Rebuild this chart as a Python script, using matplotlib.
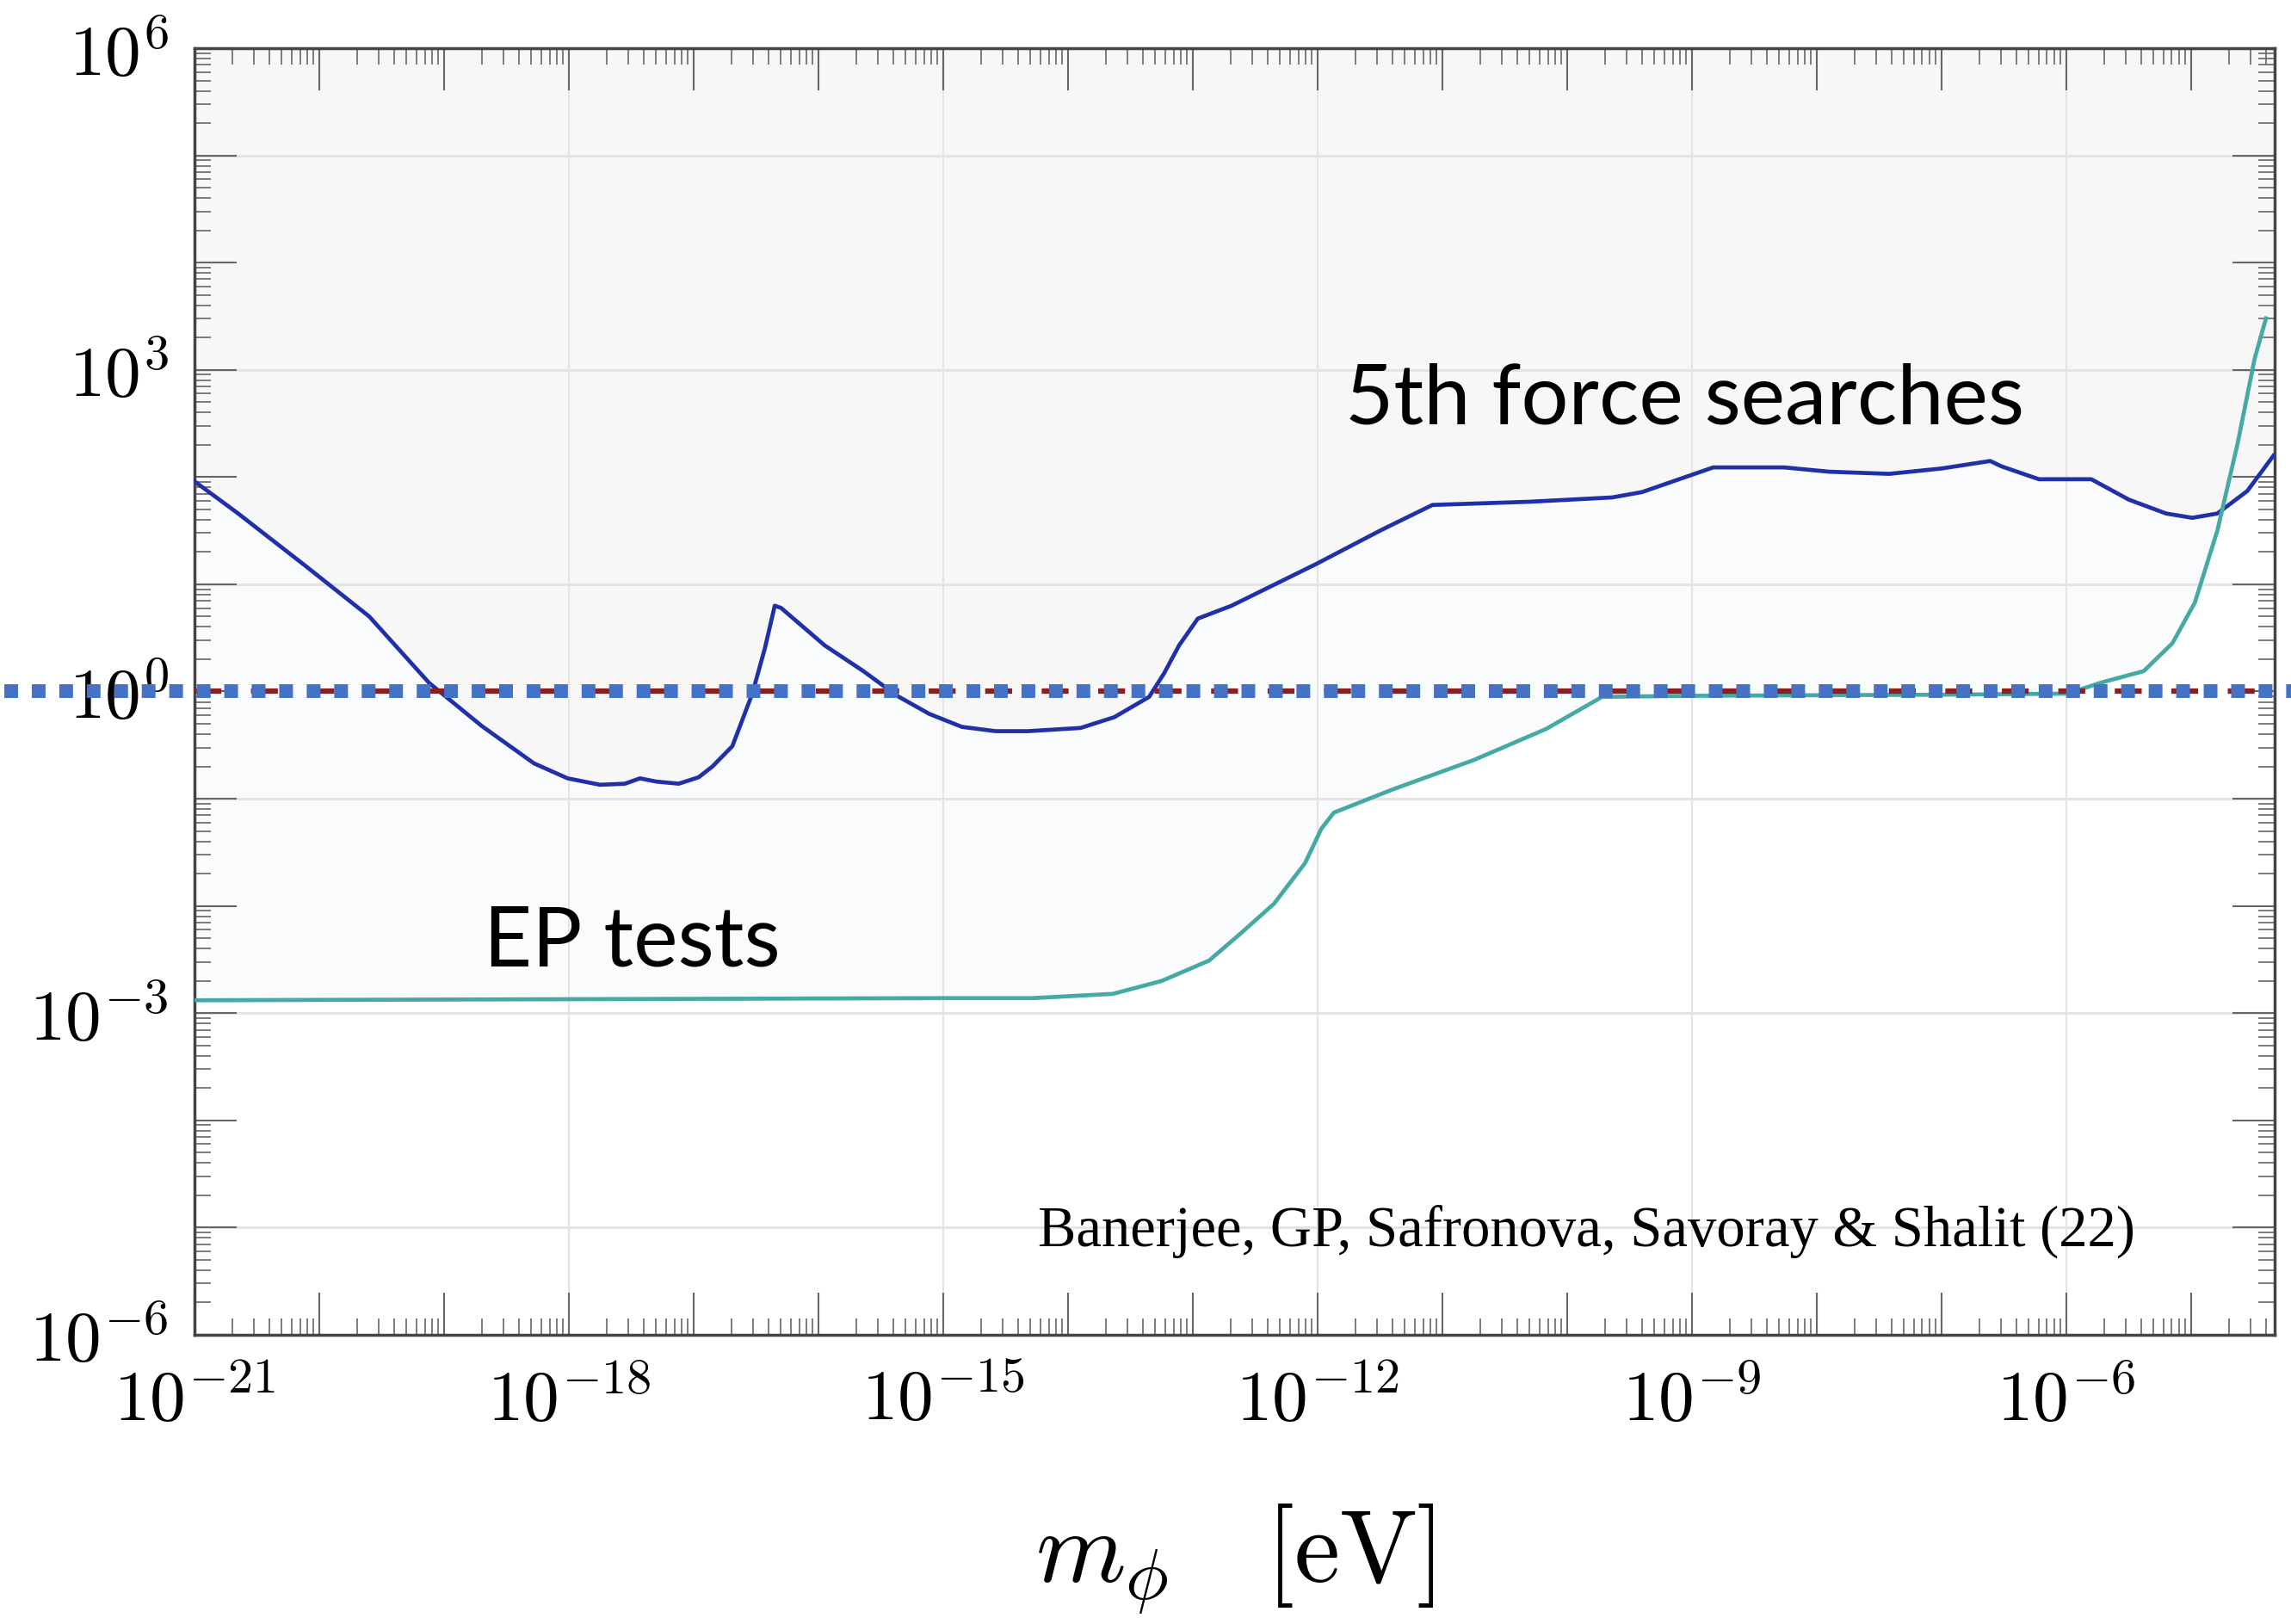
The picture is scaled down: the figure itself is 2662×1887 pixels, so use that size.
import matplotlib
matplotlib.use("Agg")
import matplotlib.pyplot as plt
from matplotlib.ticker import LogLocator, FuncFormatter, NullFormatter
import numpy as np

plt.rcParams['mathtext.fontset'] = 'cm'

# 5th force bound as log10(m/eV), log10(coupling)
fifth_log_m = [-21.0, -20.65, -20.12, -19.60, -19.12, -18.70, -18.28, -18.01,
               -17.75, -17.55, -17.43, -17.30, -17.12, -16.96, -16.85, -16.69,
               -16.53, -16.43, -16.35, -16.30, -15.95, -15.64, -15.37, -15.11,
               -14.85, -14.58, -14.32, -13.90, -13.63, -13.35, -13.23, -13.11,
               -12.96, -12.69, -12.01, -11.50, -11.08, -10.30, -9.64, -9.40,
               -8.83, -8.26, -7.90, -7.42, -7.00, -6.61, -6.52, -6.22, -5.80,
               -5.50, -5.20, -4.99, -4.79, -4.55, -4.34]
fifth_log_g = [1.96, 1.66, 1.18, 0.70, 0.08, -0.32, -0.67, -0.81,
               -0.87, -0.86, -0.81, -0.84, -0.86, -0.80, -0.70, -0.51,
               -0.02, 0.40, 0.80, 0.78, 0.43, 0.19, -0.04, -0.21,
               -0.33, -0.37, -0.37, -0.34, -0.24, -0.05, 0.17, 0.43,
               0.68, 0.80, 1.19, 1.50, 1.74, 1.77, 1.81, 1.86,
               2.09, 2.09, 2.05, 2.03, 2.08, 2.15, 2.10, 1.98, 1.98,
               1.79, 1.66, 1.62, 1.66, 1.87, 2.20]

# EP tests bound
ep_log_m = [-21.0, -18.0, -15.0, -14.28, -13.64, -13.25, -12.87, -12.61,
            -12.35, -12.10, -11.97, -11.87, -11.39, -10.75, -10.17, -9.72,
            -9.0, -7.0, -5.99, -5.73, -5.38, -5.15, -4.97, -4.79, -4.63,
            -4.49, -4.40]
ep_log_g = [-2.88, -2.87, -2.86, -2.86, -2.82, -2.70, -2.51, -2.25,
            -1.98, -1.60, -1.28, -1.13, -0.91, -0.64, -0.35, -0.05,
            -0.04, -0.03, -0.02, 0.08, 0.19, 0.45, 0.83, 1.50, 2.30,
            3.11, 3.48]

fifth_m = 10.0 ** np.array(fifth_log_m)
fifth_g = 10.0 ** np.array(fifth_log_g)
ep_m = 10.0 ** np.array(ep_log_m)
ep_g = 10.0 ** np.array(ep_log_g)

grid_x_exp = [-18, -15, -12, -9, -6]
grid_y_exp = [5, 3, 1, -1, -3, -5]

fig = plt.figure(figsize=(26.62, 18.87), dpi=100)
ax = fig.add_axes([0.0849, 0.1781, 0.9080, 0.7922])
ax.set_xscale('log')
ax.set_yscale('log')
ax.set_xlim(1e-21, 10 ** -4.33)
ax.set_ylim(1e-6, 1e6)
ax.set_facecolor('white')

# shaded excluded regions
ax.fill_between(ep_m, ep_g, 1e6, color='#f9fbfc', lw=0, zorder=0.1)
ax.fill_between(fifth_m, fifth_g, 1e6, color='#f7f7f8', lw=0, zorder=0.2)

for e in grid_x_exp:
    ax.axvline(10.0 ** e, color='#e4e4e4', lw=1.5, zorder=0.5)
for e in grid_y_exp:
    ax.axhline(10.0 ** e, color='#e4e4e4', lw=2.2, zorder=0.5)

ax.plot(fifth_m, fifth_g, color='#2030a8', lw=3.4, zorder=3)
ax.plot(ep_m, ep_g, color='#45a9a4', lw=3.4, zorder=3)

# g = 1 reference lines
ax.axhline(1.0, color='#8b1e1e', lw=4.5, dashes=(5, 5.5), zorder=4)
ax.axhline(1.0, xmin=-0.0915, xmax=1.01, color='#4472c4', lw=11.5,
           dashes=(1, 1), dash_capstyle='butt', clip_on=False, zorder=5)

def every_third(v, pos):
    e = int(round(np.log10(v)))
    return r'$10^{%d}$' % e if e % 3 == 0 else ''

for axis in (ax.xaxis, ax.yaxis):
    axis.set_major_locator(LogLocator(base=10, numticks=40))
    axis.set_major_formatter(FuncFormatter(every_third))
    axis.set_minor_locator(LogLocator(base=10, subs=np.arange(2, 10), numticks=40))
    axis.set_minor_formatter(NullFormatter())

ax.tick_params(which='both', direction='in', top=True, right=True, color='#666666')
ax.tick_params(which='major', length=35, width=1.5, labelsize=60)
ax.tick_params(which='minor', length=14, width=1.2)
ax.tick_params(axis='x', which='major', pad=26)
ax.tick_params(axis='y', which='major', pad=22)

for s in ax.spines.values():
    s.set_color('#444444')
    s.set_linewidth(2.5)

ax.text(10 ** -11.78, 10 ** 2.495, '5th force searches', fontfamily='Lato',
        fontsize=70, va='baseline', ha='left')
ax.text(10 ** -18.68, 10 ** -2.563, 'EP tests', fontfamily='Lato',
        fontsize=70, va='baseline', ha='left')
ax.text(10 ** -14.24, 10 ** -5.17, 'Banerjee, GP, Safronova, Savoray & Shalit (22)',
        fontfamily='Liberation Serif', fontsize=48, va='baseline', ha='left')

ax.set_xlabel(r'$m_\phi\quad[\mathrm{eV}]$', fontsize=86)
ax.xaxis.set_label_coords(0.5, -0.13)

fig.savefig('out.png', dpi=100)
